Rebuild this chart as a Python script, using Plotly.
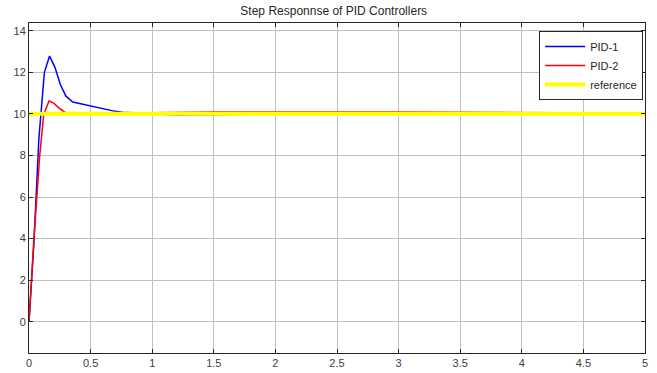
import plotly.graph_objects as go

# Data
t_pid1 = [0, 0.04, 0.08, 0.125, 0.167, 0.21, 0.255, 0.30, 0.355, 0.5, 0.6, 0.7, 0.76, 0.85, 1.0, 1.2, 1.5, 1.8, 2.2, 3.0, 4.0, 5.0]
y_pid1 = [0, 3.8, 8.8, 12.0, 12.78, 12.25, 11.4, 10.85, 10.57, 10.38, 10.22, 10.12, 10.08, 10.04, 10.0, 9.95, 9.95, 9.98, 10.0, 10.01, 10.0, 10.0]

t_pid2 = [0, 0.04, 0.087, 0.12, 0.163, 0.2, 0.24, 0.29, 0.35, 0.5, 0.8, 1.0, 1.5, 2.0, 2.5, 3.0, 3.5, 4.0, 4.5, 5.0]
y_pid2 = [0, 4.0, 8.0, 10.0, 10.62, 10.52, 10.3, 10.08, 10.0, 9.98, 10.0, 10.05, 10.09, 10.1, 10.1, 10.09, 10.08, 10.06, 10.04, 10.03]

t_ref = [0, 5]
y_ref = [10, 10]

x_ticks = [0, 0.5, 1, 1.5, 2, 2.5, 3, 3.5, 4, 4.5, 5]
x_tick_labels = ["0", "0.5", "1", "1.5", "2", "2.5", "3", "3.5", "4", "4.5", "5"]
y_ticks = [0, 2, 4, 6, 8, 10, 12, 14]
y_tick_labels = ["0", "2", "4", "6", "8", "10", "12", "14"]

FONT = "Liberation Sans, Arial, sans-serif"

fig = go.Figure()
fig.add_trace(go.Scatter(x=t_pid1, y=y_pid1, mode="lines", name="PID-1",
                         line=dict(color="#0000ff", width=1.5)))
fig.add_trace(go.Scatter(x=t_pid2, y=y_pid2, mode="lines", name="PID-2",
                         line=dict(color="#ff0000", width=1.5)))
fig.add_trace(go.Scatter(x=t_ref, y=y_ref, mode="lines", name="reference",
                         line=dict(color="#ffff00", width=4)))

axis_common = dict(
    showgrid=True, gridcolor="#c0c0c0", gridwidth=1,
    showline=True, linecolor="#262626", linewidth=1, mirror="ticks",
    ticks="inside", ticklen=4, tickcolor="#262626",
    zeroline=False, automargin=False,
    tickfont=dict(family=FONT, size=11, color="#404040"),
)

fig.update_layout(
    width=657, height=373,
    margin=dict(l=29, r=12, t=23, b=20, autoexpand=False),
    paper_bgcolor="white", plot_bgcolor="white",
    title=dict(text="Step Responnse of PID Controllers", x=0.508, xanchor="center",
               y=0.971, yanchor="middle",
               font=dict(family=FONT, size=12, color="#262626")),
    xaxis=dict(range=[0, 5], tickvals=x_ticks, ticktext=x_tick_labels, **axis_common),
    yaxis=dict(range=[-1.5, 14.37], tickvals=y_ticks, ticktext=y_tick_labels, **axis_common),
    legend=dict(x=0.997, y=0.976, xanchor="right", yanchor="top",
                bgcolor="white", bordercolor="#262626", borderwidth=1,
                font=dict(family=FONT, size=11, color="#262626"),
                tracegroupgap=0, itemwidth=40),
    showlegend=True,
)

fig.write_html("out.html",
               config={"displayModeBar": False},
               post_script="document.body.style.margin='0';document.body.style.overflow='hidden';")
